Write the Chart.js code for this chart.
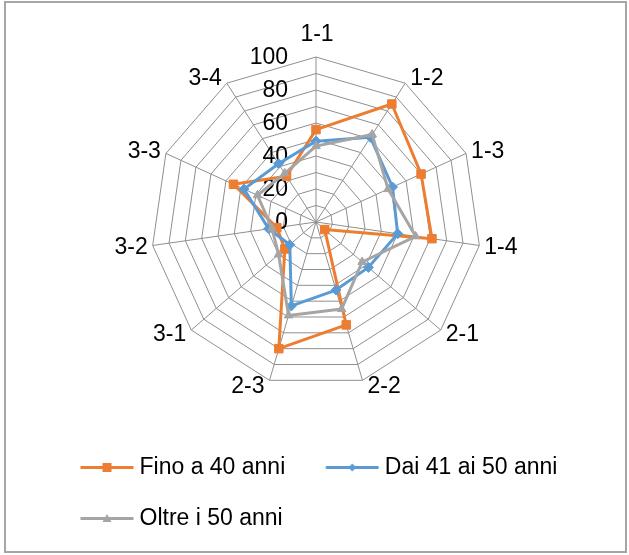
<!DOCTYPE html>
<html>
<head>
<meta charset="utf-8">
<script src="https://cdn.jsdelivr.net/npm/chart.js@4.4.1/dist/chart.umd.min.js"></script>
<style>
  html, body { margin: 0; padding: 0; background: #fff; }
  #frame { position: absolute; left: 4px; top: 1px; width: 623px; height: 552px; box-sizing: border-box; border: 2px solid #a6a6a6; }
  #wrap { position: absolute; left: 0; top: 0; width: 629px; height: 555px; }
</style>
</head>
<body>
<div id="frame"></div>
<div id="wrap"><canvas id="radar" width="629" height="555"></canvas></div>
<script>
const categories = ['1-1', '1-2', '1-3', '1-4', '2-1', '2-2', '2-3', '3-1', '3-2', '3-3', '3-4'];
const fino40 = [56, 85, 70, 71, 7, 65, 80, 25, 24, 55, 33];
const dai41a50 = [49, 61, 51, 50, 42, 43, 53, 21, 29, 48, 42];
const oltre50 = [46, 63, 48, 61, 37, 55, 59, 30, 27, 39, 35];
const tickValues = [0, 20, 40, 60, 80, 100];
const seriesNames = ['Fino a 40 anni', 'Dai 41 ai 50 anni', 'Oltre i 50 anni'];

const FONT_FAMILY = '"Liberation Sans", Arial, sans-serif';
const FONT_SIZE = 23;
const ORANGE = '#ED7D31';
const BLUE = '#5B9BD5';
const GREY = '#A5A5A5';
const GRID = '#8f8f8f';

// line + marker swatch used in the legend
function legendIcon(color, shape) {
    const c = document.createElement('canvas');
    c.width = 72;
    c.height = 15;
    const g = c.getContext('2d');
    g.strokeStyle = color;
    g.lineWidth = 3;
    g.beginPath();
    g.moveTo(18.5, 7.5);
    g.lineTo(71.5, 7.5);
    g.stroke();
    g.fillStyle = color;
    const cx = 45, cy = 7.5;
    g.beginPath();
    if (shape === 'rect') {
        g.rect(cx - 4.5, cy - 4.5, 9, 9);
    } else if (shape === 'rectRot') {
        g.moveTo(cx, cy - 4);
        g.lineTo(cx + 4, cy);
        g.lineTo(cx, cy + 4);
        g.lineTo(cx - 4, cy);
    } else {
        g.moveTo(cx, cy - 4.5);
        g.lineTo(cx + 4.5, cy + 3.5);
        g.lineTo(cx - 4.5, cy + 3.5);
    }
    g.closePath();
    g.fill();
    return c;
}

const icons = [
    legendIcon(ORANGE, 'rect'),
    legendIcon(BLUE, 'rectRot'),
    legendIcon(GREY, 'triangle'),
];

// fixed centre and radius for the web
const radarGeometry = {
    id: 'radarGeometry',
    afterLayout(chart) {
        const r = chart.scales.r;
        r.xCenter = 316;
        r.yCenter = 222;
        r.drawingArea = 165;
    }
};

// value labels beside the first spoke, category labels outside the rim
const radarText = {
    id: 'radarText',
    beforeDatasetsDraw(chart) {
        const r = chart.scales.r;
        const ctx = chart.ctx;
        ctx.save();
        ctx.font = FONT_SIZE + 'px ' + FONT_FAMILY;
        ctx.fillStyle = '#000';
        ctx.textBaseline = 'middle';

        ctx.textAlign = 'right';
        tickValues.forEach(v => {
            const d = r.getDistanceFromCenterForValue(v);
            ctx.fillText(String(v), r.xCenter - 28, r.yCenter - d + 1);
        });

        categories.forEach((label, i) => {
            const p = r.getPointPosition(i, r.drawingArea);
            const dx = (p.x - r.xCenter) / r.drawingArea;
            const dy = (p.y - r.yCenter) / r.drawingArea;
            if (Math.abs(dx) < 0.05) {
                ctx.textAlign = 'center';
                ctx.fillText(label, p.x + 1, p.y - 22);
            } else {
                ctx.textAlign = dx > 0 ? 'left' : 'right';
                ctx.fillText(label, p.x + (dx > 0 ? 5 : -5), p.y + 6 * dy + 1);
            }
        });
        ctx.restore();
    }
};

const ctx = document.getElementById('radar').getContext('2d');

new Chart(ctx, {
    type: 'radar',
    data: {
        labels: categories,
        datasets: [
            {
                label: seriesNames[0],
                data: fino40,
                borderColor: ORANGE,
                backgroundColor: ORANGE,
                pointBackgroundColor: ORANGE,
                pointBorderColor: ORANGE,
                pointStyle: 'rect',
                pointRadius: 6,
                order: 3,
            },
            {
                label: seriesNames[1],
                data: dai41a50,
                borderColor: BLUE,
                backgroundColor: BLUE,
                pointBackgroundColor: BLUE,
                pointBorderColor: BLUE,
                pointStyle: 'rectRot',
                pointRadius: 5,
                order: 2,
            },
            {
                label: seriesNames[2],
                data: oltre50,
                borderColor: GREY,
                backgroundColor: GREY,
                pointBackgroundColor: GREY,
                pointBorderColor: GREY,
                pointStyle: 'triangle',
                pointRadius: 5,
                order: 1,
            }
        ]
    },
    options: {
        responsive: false,
        animation: false,
        layout: {
            padding: { top: 10, left: 40, right: 20, bottom: 15 }
        },
        elements: {
            line: { borderWidth: 3, fill: false, borderJoinStyle: 'round' },
            point: { borderWidth: 1 }
        },
        scales: {
            r: {
                min: 0,
                max: 100,
                ticks: { stepSize: 10, display: false },
                pointLabels: { display: false },
                grid: { color: GRID, lineWidth: 1 },
                angleLines: { color: GRID, lineWidth: 1 }
            }
        },
        plugins: {
            tooltip: { enabled: false },
            legend: {
                position: 'bottom',
                align: 'start',
                labels: {
                    usePointStyle: true,
                    pointStyleWidth: 60,
                    padding: 28,
                    color: '#000',
                    font: { family: FONT_FAMILY, size: FONT_SIZE },
                    sort: (a, b) => a.datasetIndex - b.datasetIndex,
                    generateLabels(chart) {
                        const items = Chart.defaults.plugins.legend.labels.generateLabels(chart);
                        items.forEach(item => { item.pointStyle = icons[item.datasetIndex]; });
                        return items;
                    }
                }
            }
        }
    },
    plugins: [radarGeometry, radarText]
});
</script>
</body>
</html>
